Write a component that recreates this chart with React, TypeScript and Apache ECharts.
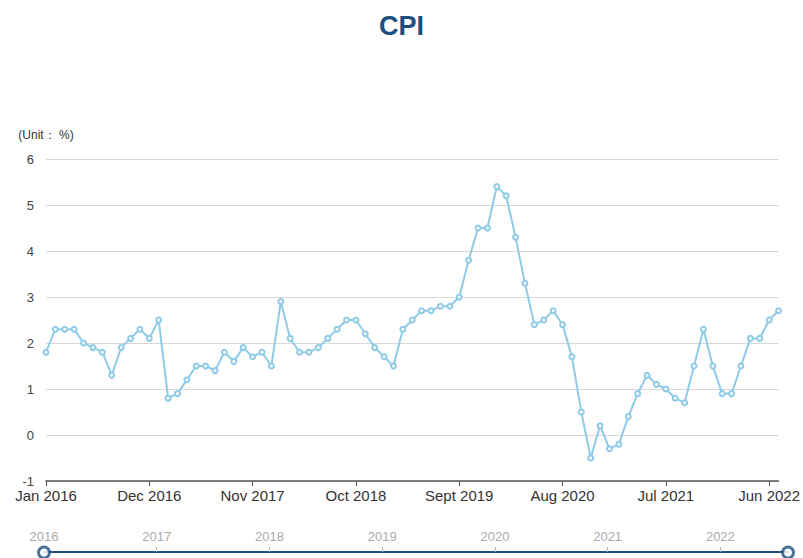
import React, { useEffect, useRef } from "react";
import * as echarts from "echarts";

const MONTHS = ["Jan", "Feb", "Mar", "Apr", "May", "Jun", "Jul", "Aug", "Sept", "Oct", "Nov", "Dec"];
const years = [2016, 2017, 2018, 2019, 2020, 2021, 2022];

const cpi2016 = [1.8, 2.3, 2.3, 2.3, 2.0, 1.9, 1.8, 1.3, 1.9, 2.1, 2.3, 2.1];
const cpi2017 = [2.5, 0.8, 0.9, 1.2, 1.5, 1.5, 1.4, 1.8, 1.6, 1.9, 1.7, 1.8];
const cpi2018 = [1.5, 2.9, 2.1, 1.8, 1.8, 1.9, 2.1, 2.3, 2.5, 2.5, 2.2, 1.9];
const cpi2019 = [1.7, 1.5, 2.3, 2.5, 2.7, 2.7, 2.8, 2.8, 3.0, 3.8, 4.5, 4.5];
const cpi2020 = [5.4, 5.2, 4.3, 3.3, 2.4, 2.5, 2.7, 2.4, 1.7, 0.5, -0.5, 0.2];
const cpi2021 = [-0.3, -0.2, 0.4, 0.9, 1.3, 1.1, 1.0, 0.8, 0.7, 1.5, 2.3, 1.5];
const cpi2022 = [0.9, 0.9, 1.5, 2.1, 2.1, 2.5, 2.7];

const cpiValues = [...cpi2016, ...cpi2017, ...cpi2018, ...cpi2019, ...cpi2020, ...cpi2021, ...cpi2022];
const categories = cpiValues.map((_, i) => `${MONTHS[i % 12]} ${years[0] + Math.floor(i / 12)}`);

const sliderStart = 2016;
const sliderEnd = 2022.6;

export default function App() {
  const ref = useRef<HTMLDivElement>(null);
  useEffect(() => {
    if (!ref.current) return;
    const chart = echarts.init(ref.current, undefined, { renderer: "svg" });
    chart.setOption({
      animation: false,
      backgroundColor: "#ffffff",
      title: {
        text: "CPI",
        left: "center",
        top: 7,
        textStyle: { fontSize: 27, fontWeight: "bold", color: "#1d4f7e", fontFamily: "Liberation Sans, Arial, sans-serif" },
      },
      grid: [
        { left: 46, right: 22, top: 159, bottom: 77 },
        { left: 44, right: 15, top: 552, height: 1 },
      ],
      xAxis: [
        {
          type: "category",
          gridIndex: 0,
          data: categories,
          boundaryGap: false,
          axisLine: { onZero: false, lineStyle: { color: "#555", width: 1.5 } },
          axisTick: { interval: 10, length: 5, lineStyle: { color: "#555" } },
          axisLabel: { interval: 10, fontSize: 15, color: "#333", margin: 7, fontFamily: "Liberation Sans, Arial, sans-serif" },
          splitLine: { show: false },
        },
        {
          type: "value",
          gridIndex: 1,
          position: "top",
          min: sliderStart,
          max: sliderEnd,
          interval: 1,
          axisLine: { onZero: false, lineStyle: { color: "#1d4f7e", width: 2 } },
          axisTick: { length: 5, lineStyle: { color: "#bbb" } },
          axisLabel: {
            fontSize: 13,
            color: "#aaa",
            margin: 9,
            formatter: (v: number) => (Number.isInteger(v) ? String(v) : ""),
          },
          splitLine: { show: false },
        },
      ],
      yAxis: [
        {
          type: "value",
          gridIndex: 0,
          min: -1,
          max: 6,
          interval: 1,
          name: "(Unit： %)",
          nameGap: 18,
          nameTextStyle: { fontSize: 12, color: "#333", align: "center" },
          axisLine: { show: false },
          axisTick: { show: false },
          axisLabel: { fontSize: 13, color: "#444", margin: 12 },
          splitLine: { lineStyle: { color: "#d8d8d8", width: 1 } },
        },
        { type: "value", gridIndex: 1, min: -1, max: 1, show: false },
      ],
      series: [
        {
          type: "line",
          xAxisIndex: 0,
          yAxisIndex: 0,
          data: cpiValues,
          symbol: "emptyCircle",
          symbolSize: 5,
          lineStyle: { color: "#8ecbe8", width: 2 },
          itemStyle: { color: "#8ecbe8", borderWidth: 1 },
        },
        {
          type: "scatter",
          xAxisIndex: 1,
          yAxisIndex: 1,
          data: [[sliderStart, 0], [sliderEnd, 0]],
          symbol: "circle",
          symbolSize: 11,
          itemStyle: { color: "#ffffff", borderColor: "#1d4f7e", borderWidth: 3 },
          z: 10,
        },
      ],
    });
    return () => chart.dispose();
  }, []);
  return <div ref={ref} style={{ width: 803, height: 558, position: "absolute", left: 0, top: 0 }} />;
}
